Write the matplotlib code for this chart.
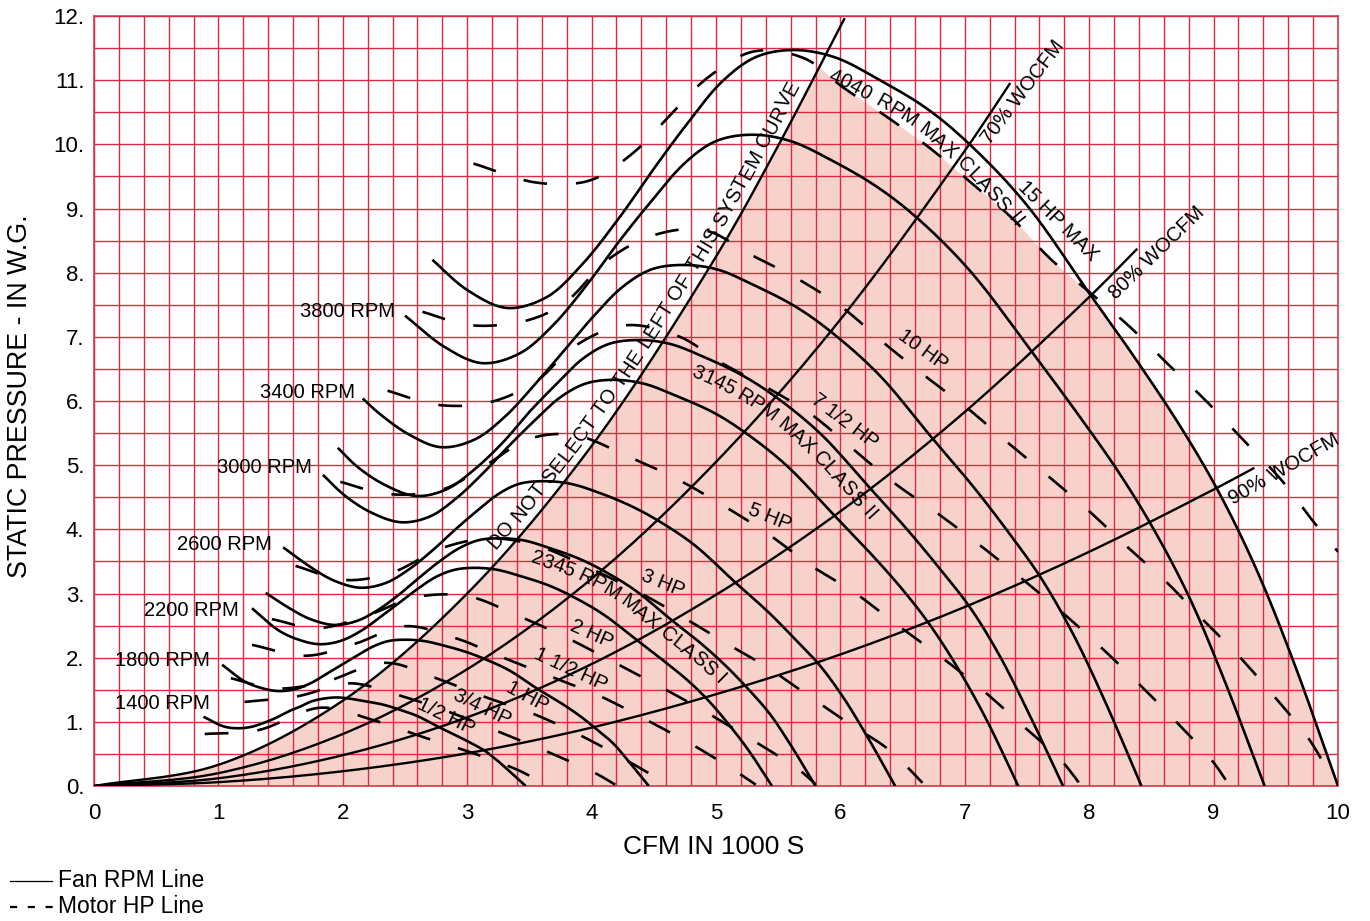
import numpy as np
import matplotlib
matplotlib.use("Agg")
import matplotlib.pyplot as plt
from matplotlib.lines import Line2D
from matplotlib.font_manager import FontProperties, findfont, get_font

FAMILY = ["Liberation Sans", "DejaVu Sans"]
plt.rcParams["font.family"] = FAMILY

RED = "#db2b43"
PINK = "#f6d2cb"

# ---------------- axis ticks ----------------
x_ticks = [0, 1, 2, 3, 4, 5, 6, 7, 8, 9, 10]
x_tick_labels = ["0", "1", "2", "3", "4", "5", "6", "7", "8", "9", "10"]
y_ticks = [0, 1, 2, 3, 4, 5, 6, 7, 8, 9, 10, 11, 12]
y_tick_labels = ["0.", "1.", "2.", "3.", "4.", "5.", "6.", "7.", "8.", "9.", "10.", "11.", "12."]

# ---------------- fan RPM curves (CFM in 1000s, SP in in. W.G.) ----------------
rpm_names = ["1400 RPM", "1800 RPM", "2200 RPM", "2345 RPM", "2600 RPM",
             "3000 RPM", "3145 RPM", "3400 RPM", "3800 RPM", "4040 RPM"]

rpm_1400_x = [0.88, 1.04, 1.15, 1.26, 1.36, 1.46, 1.56, 1.66, 1.75, 1.84, 1.95, 2.06, 2.18, 2.32, 2.44, 2.60, 2.77, 2.91, 3.03, 3.14, 3.24, 3.34, 3.47]
rpm_1400_y = [1.08, 0.93, 0.90, 0.92, 0.98, 1.06, 1.16, 1.24, 1.32, 1.36, 1.38, 1.36, 1.32, 1.27, 1.20, 1.09, 0.92, 0.79, 0.67, 0.55, 0.40, 0.23, 0.00]

rpm_1800_x = [1.03, 1.21, 1.34, 1.48, 1.62, 1.75, 1.88, 2.01, 2.13, 2.25, 2.37, 2.50, 2.65, 2.81, 2.99, 3.14, 3.34, 3.56, 3.74, 3.90, 4.03, 4.17, 4.30, 4.46]
rpm_1800_y = [1.89, 1.63, 1.53, 1.48, 1.51, 1.61, 1.76, 1.91, 2.05, 2.18, 2.26, 2.28, 2.26, 2.19, 2.09, 1.98, 1.80, 1.52, 1.31, 1.10, 0.90, 0.67, 0.38, 0.00]

rpm_2200_x = [1.27, 1.48, 1.63, 1.81, 1.98, 2.14, 2.30, 2.45, 2.60, 2.75, 2.90, 3.06, 3.24, 3.43, 3.65, 3.84, 4.09, 4.36, 4.58, 4.77, 4.93, 5.09, 5.26, 5.45]
rpm_2200_y = [2.77, 2.43, 2.29, 2.21, 2.26, 2.41, 2.63, 2.85, 3.07, 3.26, 3.37, 3.40, 3.37, 3.27, 3.13, 2.96, 2.68, 2.28, 1.95, 1.65, 1.35, 0.99, 0.56, 0.00]

rpm_2345_x = [1.38, 1.58, 1.74, 1.93, 2.11, 2.28, 2.45, 2.61, 2.77, 2.93, 3.09, 3.26, 3.45, 3.66, 3.89, 4.09, 4.35, 4.64, 4.88, 5.08, 5.25, 5.43, 5.60, 5.80]
rpm_2345_y = [3.01, 2.76, 2.60, 2.51, 2.57, 2.74, 2.98, 3.24, 3.49, 3.70, 3.83, 3.86, 3.83, 3.71, 3.55, 3.36, 3.05, 2.59, 2.22, 1.87, 1.53, 1.13, 0.64, 0.00]

rpm_2600_x = [1.52, 1.75, 1.93, 2.14, 2.34, 2.52, 2.72, 2.90, 3.08, 3.25, 3.42, 3.62, 3.83, 4.06, 4.31, 4.54, 4.83, 5.15, 5.41, 5.63, 5.83, 6.02, 6.21, 6.44]
rpm_2600_y = [3.72, 3.40, 3.20, 3.09, 3.16, 3.36, 3.67, 3.99, 4.29, 4.55, 4.71, 4.75, 4.71, 4.57, 4.37, 4.13, 3.75, 3.18, 2.73, 2.30, 1.89, 1.39, 0.79, 0.00]

rpm_3000_x = [1.84, 2.02, 2.23, 2.47, 2.70, 2.91, 3.13, 3.34, 3.55, 3.75, 3.95, 4.17, 4.42, 4.68, 4.98, 5.24, 5.57, 5.94, 6.24, 6.50, 6.72, 6.94, 7.17, 7.43]
rpm_3000_y = [4.85, 4.52, 4.26, 4.11, 4.20, 4.48, 4.88, 5.31, 5.71, 6.06, 6.27, 6.33, 6.27, 6.08, 5.82, 5.50, 4.99, 4.24, 3.63, 3.06, 2.51, 1.85, 1.05, 0.00]

rpm_3145_x = [1.96, 2.12, 2.34, 2.59, 2.83, 3.05, 3.29, 3.50, 3.72, 3.93, 4.14, 4.38, 4.63, 4.91, 5.22, 5.49, 5.84, 6.23, 6.54, 6.81, 7.05, 7.28, 7.51, 7.79]
rpm_3145_y = [5.27, 4.97, 4.69, 4.52, 4.62, 4.92, 5.36, 5.83, 6.27, 6.66, 6.89, 6.95, 6.89, 6.68, 6.39, 6.05, 5.49, 4.66, 3.99, 3.36, 2.76, 2.03, 1.15, 0.00]

rpm_3400_x = [2.16, 2.29, 2.53, 2.79, 3.06, 3.30, 3.55, 3.79, 4.02, 4.25, 4.48, 4.73, 5.01, 5.30, 5.64, 5.93, 6.31, 6.73, 7.07, 7.36, 7.62, 7.87, 8.12, 8.42]
rpm_3400_y = [6.04, 5.81, 5.48, 5.28, 5.40, 5.75, 6.27, 6.81, 7.33, 7.78, 8.05, 8.12, 8.05, 7.81, 7.47, 7.07, 6.41, 5.44, 4.66, 3.93, 3.22, 2.37, 1.35, 0.00]

rpm_3800_x = [2.50, 2.82, 3.12, 3.42, 3.69, 3.97, 4.23, 4.50, 4.75, 5.00, 5.29, 5.60, 5.93, 6.30, 6.63, 7.05, 7.53, 7.90, 8.23, 8.51, 8.80, 9.08, 9.41]
rpm_3800_y = [7.33, 6.84, 6.59, 6.74, 7.18, 7.83, 8.51, 9.16, 9.71, 10.05, 10.15, 10.05, 9.75, 9.33, 8.83, 8.01, 6.79, 5.82, 4.91, 4.03, 2.96, 1.68, 0.00]

rpm_4040_x = [2.72, 3.00, 3.32, 3.64, 3.92, 4.22, 4.50, 4.78, 5.05, 5.32, 5.62, 5.95, 6.30, 6.70, 7.05, 7.50, 8.00, 8.40, 8.75, 9.05, 9.35, 9.65, 10.00]
rpm_4040_y = [8.20, 7.73, 7.45, 7.62, 8.12, 8.85, 9.62, 10.35, 10.98, 11.36, 11.47, 11.36, 11.02, 10.55, 9.98, 9.05, 7.68, 6.58, 5.55, 4.55, 3.35, 1.90, 0.00]

# ---------------- motor HP lines ----------------
hp_05_x = [0.89, 1.32, 1.82, 2.24, 2.65, 3.05, 3.44, 3.62]
hp_05_y = [0.81, 0.87, 1.22, 1.03, 0.76, 0.51, 0.22, 0.02]

hp_075_x = [1.21, 1.64, 2.06, 2.44, 2.86, 3.26, 3.65, 4.04, 4.19]
hp_075_y = [1.31, 1.40, 1.60, 1.42, 1.15, 0.84, 0.53, 0.19, 0.02]

hp_1_x = [1.10, 1.45, 1.85, 2.34, 2.75, 3.14, 3.55, 3.94, 4.29, 4.61]
hp_1_y = [1.68, 1.52, 1.62, 1.92, 1.68, 1.39, 1.11, 0.76, 0.39, 0.03]

hp_15_x = [1.27, 1.70, 2.09, 2.50, 2.90, 3.29, 3.68, 4.08, 4.47, 4.84, 5.19, 5.32]
hp_15_y = [2.20, 2.03, 2.21, 2.49, 2.31, 2.00, 1.70, 1.39, 1.00, 0.61, 0.19, 0.02]

hp_2_x = [1.43, 1.80, 2.20, 2.58, 3.00, 3.40, 3.79, 4.18, 4.56, 4.92, 5.29, 5.65, 5.80]
hp_2_y = [2.60, 2.46, 2.66, 2.94, 2.96, 2.66, 2.32, 1.93, 1.54, 1.15, 0.72, 0.28, 0.03]

hp_3_x = [1.62, 2.02, 2.40, 2.80, 3.20, 3.60, 4.00, 4.38, 4.77, 5.13, 5.42, 5.71, 6.05, 6.40, 6.66]
hp_3_y = [3.43, 3.21, 3.33, 3.71, 3.86, 3.72, 3.38, 3.02, 2.59, 2.17, 1.84, 1.45, 1.00, 0.55, 0.05]

hp_5_x = [1.98, 2.36, 2.80, 3.15, 3.50, 3.86, 4.30, 4.69, 5.05, 5.41, 5.76, 6.11, 6.45, 6.81, 7.14, 7.46, 7.77, 7.93]
hp_5_y = [4.74, 4.55, 4.62, 5.00, 5.41, 5.47, 5.13, 4.78, 4.38, 3.94, 3.44, 3.02, 2.52, 2.01, 1.50, 0.95, 0.41, 0.02]

hp_75_x = [2.36, 2.76, 3.18, 3.55, 3.86, 4.27, 4.71, 5.03, 5.40, 5.76, 6.09, 6.42, 6.78, 7.11, 7.44, 7.78, 8.09, 8.39, 8.70, 8.99, 9.12]
hp_75_y = [6.16, 5.94, 5.98, 6.30, 6.85, 7.18, 7.00, 6.61, 6.22, 5.80, 5.27, 4.74, 4.25, 3.77, 3.26, 2.71, 2.17, 1.61, 1.00, 0.39, 0.03]

hp_10_x = [2.64, 3.03, 3.49, 3.79, 4.13, 4.51, 4.91, 5.29, 5.66, 6.02, 6.34, 6.68, 7.02, 7.34, 7.67, 7.99, 8.31, 8.62, 8.91, 9.21, 9.49, 9.76, 9.94]
hp_10_y = [7.39, 7.18, 7.26, 7.54, 8.20, 8.59, 8.66, 8.27, 7.90, 7.45, 6.92, 6.39, 5.89, 5.36, 4.83, 4.30, 3.72, 3.18, 2.60, 2.01, 1.39, 0.75, 0.17]

hp_max_x = [3.05, 3.57, 3.99, 4.33, 4.64, 4.94, 5.31, 5.71, 6.02, 6.41, 6.74, 7.07, 7.38, 7.68, 8.00, 8.33, 8.63, 8.94, 9.24, 9.54, 9.79, 10.00]
hp_max_y = [9.70, 9.40, 9.44, 9.86, 10.47, 11.05, 11.45, 11.34, 10.89, 10.38, 9.91, 9.37, 8.85, 8.23, 7.70, 7.15, 6.58, 6.00, 5.39, 4.78, 4.15, 3.65]

# ---------------- system curves ----------------
sys_limit_x = [0, 1, 2, 3, 4, 5, 5.5, 6.03]
sys_limit_y = [0, 0.33, 1.33, 3.00, 5.30, 8.25, 9.98, 11.95]
sys_70_x = [0, 1, 2, 3, 4, 5, 6, 7, 7.36]
sys_70_y = [0, 0.20, 0.81, 1.82, 3.23, 5.05, 7.27, 9.90, 10.94]
sys_80_x = [0, 1, 2, 3, 4, 5, 6, 7, 8, 8.38]
sys_80_y = [0, 0.12, 0.48, 1.07, 1.90, 2.98, 4.28, 5.83, 7.62, 8.36]
sys_90_x = [0, 1, 2, 3, 4, 5, 6, 7, 8, 9, 9.32]
sys_90_y = [0, 0.06, 0.23, 0.51, 0.91, 1.43, 2.05, 2.79, 3.65, 4.62, 4.95]

hp_names = ["1/2 HP", "3/4 HP", "1 HP", "1 1/2 HP", "2 HP", "3 HP", "5 HP", "7 1/2 HP", "10 HP", "15 HP MAX"]
wocfm_names = ["70% WOCFM", "80% WOCFM", "90% WOCFM"]

# ---------------- figure ----------------
fig = plt.figure(figsize=(13.7, 9.21), dpi=100)
ax = fig.add_axes([94 / 1370, 135 / 921, 1244 / 1370, 770 / 921])
ax.set_xlim(0, 10)
ax.set_ylim(0, 12)

SX = ax.bbox.width / 10.0
SY = ax.bbox.height / 12.0


def smooth(xs, ys, n=16):
    """Centripetal Catmull-Rom through the points, evaluated in screen-like units."""
    P = np.column_stack([np.asarray(xs, float) * SX, np.asarray(ys, float) * SY])
    P = np.vstack([2 * P[0] - P[1], P, 2 * P[-1] - P[-2]])
    out = []
    for i in range(1, len(P) - 2):
        p0, p1, p2, p3 = P[i - 1], P[i], P[i + 1], P[i + 2]
        t0 = 0.0
        t1 = t0 + max(np.linalg.norm(p1 - p0), 1e-6) ** 0.5
        t2 = t1 + max(np.linalg.norm(p2 - p1), 1e-6) ** 0.5
        t3 = t2 + max(np.linalg.norm(p3 - p2), 1e-6) ** 0.5
        t = np.linspace(t1, t2, n, endpoint=False)[:, None]
        a1 = (t1 - t) / (t1 - t0) * p0 + (t - t0) / (t1 - t0) * p1
        a2 = (t2 - t) / (t2 - t1) * p1 + (t - t1) / (t2 - t1) * p2
        a3 = (t3 - t) / (t3 - t2) * p2 + (t - t2) / (t3 - t2) * p3
        b1 = (t2 - t) / (t2 - t0) * a1 + (t - t0) / (t2 - t0) * a2
        b2 = (t3 - t) / (t3 - t1) * a2 + (t - t1) / (t3 - t1) * a3
        out.append((t2 - t) / (t2 - t1) * b1 + (t - t1) / (t2 - t1) * b2)
    out.append(P[-2][None, :])
    C = np.vstack(out)
    return C[:, 0] / SX, C[:, 1] / SY


rpm_curves = [(rpm_1400_x, rpm_1400_y), (rpm_1800_x, rpm_1800_y), (rpm_2200_x, rpm_2200_y),
              (rpm_2345_x, rpm_2345_y), (rpm_2600_x, rpm_2600_y), (rpm_3000_x, rpm_3000_y),
              (rpm_3145_x, rpm_3145_y), (rpm_3400_x, rpm_3400_y), (rpm_3800_x, rpm_3800_y),
              (rpm_4040_x, rpm_4040_y)]
hp_curves = [(hp_05_x, hp_05_y), (hp_075_x, hp_075_y), (hp_1_x, hp_1_y), (hp_15_x, hp_15_y),
             (hp_2_x, hp_2_y), (hp_3_x, hp_3_y), (hp_5_x, hp_5_y), (hp_75_x, hp_75_y),
             (hp_10_x, hp_10_y), (hp_max_x, hp_max_y)]
sys_curves = [(sys_limit_x, sys_limit_y), (sys_70_x, sys_70_y), (sys_80_x, sys_80_y), (sys_90_x, sys_90_y)]

rpm_s = [smooth(x, y) for x, y in rpm_curves]
hp_s = [smooth(x, y) for x, y in hp_curves]
sys_s = [smooth(x, y) for x, y in sys_curves]

# selection zone: right of the limit system curve, under 15 HP max and 4040 RPM
xg = np.linspace(0, 10, 3001)
lim = np.interp(xg, sys_s[0][0], sys_s[0][1], right=np.inf)
top15 = np.interp(xg, hp_s[-1][0], hp_s[-1][1], left=np.inf, right=np.inf)
top40 = np.interp(xg, rpm_s[-1][0], rpm_s[-1][1], left=np.inf, right=np.inf)
upper = np.minimum(np.minimum(lim, top15), top40)
upper[~np.isfinite(upper)] = 0
ax.fill_between(xg, 0, upper, color=PINK, lw=0, zorder=1)

# grid and frame
ax.set_xticks(x_ticks)
ax.set_xticklabels(x_tick_labels)
ax.set_xticks(np.arange(0, 10.001, 0.2), minor=True)
ax.set_yticks(y_ticks)
ax.set_yticklabels(y_tick_labels)
ax.set_yticks(np.arange(0, 12.001, 0.5), minor=True)
ax.tick_params(which="both", length=0)
ax.tick_params(axis="x", pad=12, labelsize=16)
ax.tick_params(axis="y", pad=7, labelsize=16)
ax.grid(which="both", color=RED, lw=1.0, zorder=1.5)
for sp in ax.spines.values():
    sp.set_color(RED)
    sp.set_linewidth(1.1)

LW = 1.9
for cx, cy in rpm_s:
    ax.plot(cx, cy, color="k", lw=LW, solid_capstyle="butt", zorder=3)
for cx, cy in hp_s:
    ax.plot(cx, cy, color="k", lw=LW, linestyle=(0, (9, 11)), dash_capstyle="butt", zorder=3)
for cx, cy in sys_s:
    ax.plot(cx, cy, color="k", lw=1.7, zorder=3)

# ---------------- labels ----------------
TS = 14.5


def curve_text(cx, cy, text, start_x, base_off, size=TS, track=0.0):
    disp = ax.transData.transform(np.column_stack([cx, cy]))
    arc = np.concatenate([[0.0], np.cumsum(np.hypot(*np.diff(disp, axis=0).T))])
    s = np.interp(start_x, cx, arc)
    font = get_font(findfont(FontProperties(family=FAMILY)))
    font.set_size(size, 72)
    k = fig.dpi / 72.0
    inv = ax.transData.inverted()

    def at(u):
        return np.array([np.interp(u, arc, disp[:, 0]), np.interp(u, arc, disp[:, 1])])

    for ch in text:
        adv = font.load_char(ord(ch)).linearHoriAdvance / 65536.0 * k
        mid = s + adv / 2.0
        tan = at(mid + 5) - at(mid - 5)
        tan /= np.linalg.norm(tan)
        nrm = np.array([-tan[1], tan[0]])
        q = inv.transform(at(mid) + nrm * base_off)
        if ch.strip():
            ax.text(q[0], q[1], ch, rotation=np.degrees(np.arctan2(tan[1], tan[0])),
                    rotation_mode="anchor", ha="center", va="baseline", fontsize=size, zorder=6)
        s += adv + track


curve_text(*sys_s[0], "DO NOT SELECT TO THE LEFT OF THIS SYSTEM CURVE", 3.28, 9, track=0.3)
curve_text(*rpm_s[9], "4040 RPM MAX CLASS II", 5.97, -24, track=1.0)
curve_text(*rpm_s[6], "3145 RPM MAX CLASS II", 4.87, -23, track=0.5)
curve_text(*rpm_s[3], "2345 RPM MAX CLASS I", 3.55, -19.5, track=0.5)

# fan speed names at the start of each curve
rpm_label_pos = [(0.93, 1.29), (0.93, 1.95), (1.16, 2.74), None, (1.43, 3.76),
                 (1.75, 4.96), None, (2.10, 6.14), (2.42, 7.39), None]
for name, pos in zip(rpm_names, rpm_label_pos):
    if pos is not None:
        ax.text(pos[0], pos[1], name, ha="right", va="center", fontsize=TS, zorder=6)

hp_label_pos = [(2.83, 1.09, -26), (3.12, 1.22, -26), (3.48, 1.40, -28), (3.83, 1.82, -25),
                (4.00, 2.37, -24), (4.57, 3.16, -22), (5.43, 4.19, -22), (6.03, 5.69, -37),
                (6.66, 6.79, -36), (7.75, 8.80, -45)]
for name, (x, y, r) in zip(hp_names, hp_label_pos):
    ax.text(x, y, name, rotation=r, rotation_mode="anchor", ha="center", va="center",
            fontsize=TS, zorder=6)

wocfm_pos = [(7.47, 10.81, 53), (8.54, 8.31, 44), (9.57, 4.94, 30)]
for name, (x, y, r) in zip(wocfm_names, wocfm_pos):
    ax.text(x, y, name, rotation=r, rotation_mode="anchor", ha="center", va="center",
            fontsize=TS, zorder=6)

# axis titles
fig.text(714 / 1370, 1 - 847 / 921, "CFM IN 1000 S", ha="center", va="center", fontsize=19)
fig.text(20 / 1370, 1 - 396 / 921, "STATIC PRESSURE - IN W.G.", rotation=90,
         ha="center", va="center", fontsize=19.3)

# key
fig.add_artist(Line2D([10 / 1370, 52 / 1370], [1 - 881 / 921] * 2, color="k", lw=0.9,
                      transform=fig.transFigure))
fig.text(58 / 1370, 1 - 880 / 921, "Fan RPM Line", ha="left", va="center", fontsize=16.5)
fig.add_artist(Line2D([10 / 1370, 53 / 1370], [1 - 907 / 921] * 2, color="k", lw=1.6,
                      linestyle=(0, (3.2, 4.8)), transform=fig.transFigure))
fig.text(58 / 1370, 1 - 906 / 921, "Motor HP Line", ha="left", va="center", fontsize=16.5)

fig.savefig("out.png", dpi=100)
